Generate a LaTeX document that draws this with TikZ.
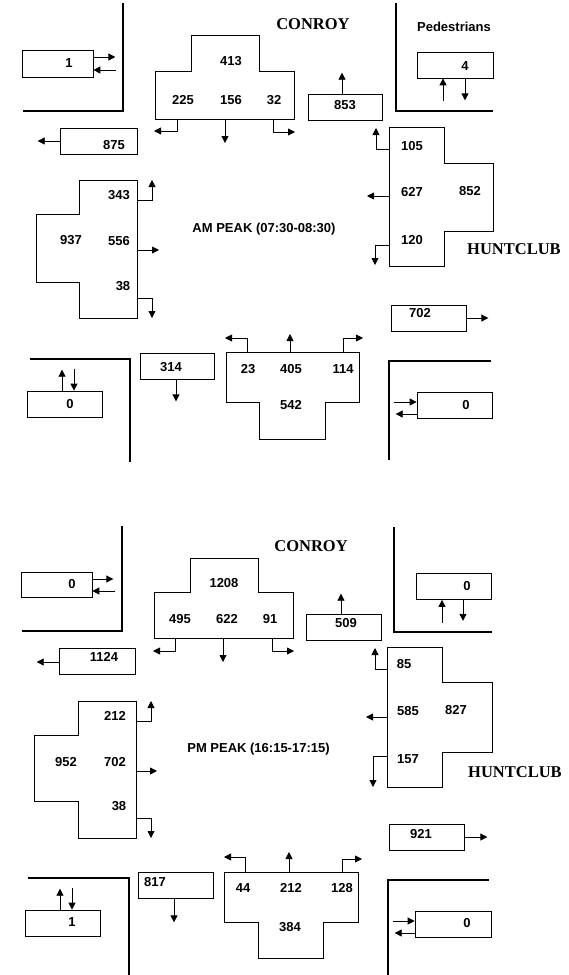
\documentclass[tikz,border=0pt]{standalone}
\usepackage{fontspec}
\setmainfont{Liberation Sans}
\newfontfamily\roadfont{Liberation Serif}
\usetikzlibrary{arrows.meta}

\tikzset{
  volbox/.style={draw, line width=0.7pt, minimum width=75pt, minimum height=26pt, inner sep=0pt},
  vol/.style={font=\fontsize{13}{15}\selectfont\bfseries, inner sep=0pt},
  road/.style={font=\roadfont\fontsize{16.5}{18}\selectfont\bfseries, inner sep=0pt},
  wall/.style={line width=2.8pt},
  approach/.style={draw, line width=0.7pt},
  flow/.style={line width=0.8pt, -{Triangle[length=7pt,width=7pt]}},
}

\begin{document}
\begin{tikzpicture}[x=1pt, y=-1pt]
    \useasboundingbox (0,0) rectangle (569,975);

    % ---------------- AM peak ----------------
    % Kerbs
    \draw[wall] (123,3) -- (123,111) -- (23,111);
    \draw[wall] (396,3) -- (396,111) -- (493,111);
    \draw[wall] (30,359) -- (130,359) -- (130,462);
    \draw[wall] (491,361) -- (389,361) -- (389,460);

    % Street names
    \node[road] (amconroy) at (313,24) {CONROY};
    \node[road] (amhunt) at (514,249) {HUNTCLUB};
    \node[vol] (amped) at (454,27) {Pedestrians};
    \node[vol] (amtitle) at (264,229) {AM PEAK (07:30-08:30)};

    % Pedestrian and departure boxes
    \node[volbox, minimum width=71pt, minimum height=27pt] (amnw) at (57.5,63.5) {};
    \node[vol] (amnwv) at (69,63) {1};
    \node[volbox, minimum width=77pt] (amwout) at (98.5,141) {};
    \node[vol] (amwoutv) at (114,145) {875};
    \node[volbox, minimum width=76pt] (amne) at (455,65) {};
    \node[vol] (amnev) at (465,66) {4};
    \node[volbox, minimum width=74pt] (amnout) at (345,107) {};
    \node[vol] (amnoutv) at (345,105) {853};
    \node[volbox] (ameout) at (428.5,318) {};
    \node[vol] (ameoutv) at (420,313) {702};
    \node[volbox] (amse) at (454.5,405) {};
    \node[vol] (amsev) at (466,405) {0};
    \node[volbox, minimum width=74pt] (amsout) at (177,366) {};
    \node[vol] (amsoutv) at (171,367) {314};
    \node[volbox] (amsw) at (64.5,404) {};
    \node[vol] (amswv) at (70,404) {0};

    \draw[flow] ([yshift=6.5pt]amnw.east) -- ++(22,0);
    \draw[flow] ([yshift=-6.5pt]amnw.east) ++(23,0) -- ([yshift=-6.5pt]amnw.east);
    \draw[flow] (amwout.west) -- ++(-22,0);
    \draw[flow] ([xshift=-12pt]amne.south) ++(0,23) -- ([xshift=-12pt]amne.south);
    \draw[flow] ([xshift=10pt]amne.south) -- ++(0,22);
    \draw[flow] ([xshift=-3pt]amnout.north) -- ++(0,-21);
    \draw[flow] (ameout.east) -- ++(22,0);
    \draw[flow] ([yshift=3pt]amse.west) ++(-23,0) -- ([yshift=3pt]amse.west);
    \draw[flow] ([yshift=-9pt]amse.west) -- ++(-21,0);
    \draw[flow] ([xshift=-1pt]amsout.south) -- ++(0,22);
    \draw[flow] ([xshift=-2.5pt]amsw.north) -- ++(0,-21);
    \draw[flow] ([xshift=9.5pt]amsw.north) ++(0,-22) -- ([xshift=9.5pt]amsw.north);

    % Conroy approach
    \draw[approach] (155,71) -- (191,71) -- (191,35) -- (259,35) -- (259,71)
        -- (294,71) -- (294,119) -- (155,119) -- cycle;
    \node[vol] (amn1) at (231,61) {413};
    \node[vol] (amn2) at (183,100) {225};
    \node[vol] (amn3) at (231,100) {156};
    \node[vol] (amn4) at (274,100) {32};
    \draw[flow] (177,119) |- (154,131);
    \draw[flow] (225,119) -- (225,143);
    \draw[flow] (273,119) |- (295,132);

    % Huntclub approach
    \draw[approach] (389,127) -- (444,127) -- (444,163) -- (493,163) -- (493,231)
        -- (444,231) -- (444,266) -- (389,266) -- cycle;
    \node[vol] (ame1) at (412,146) {105};
    \node[vol] (ame2) at (412,192) {627};
    \node[vol] (ame3) at (470,191) {852};
    \node[vol] (ame4) at (412,240) {120};
    \draw[flow] (389,149) -| (376,128);
    \draw[flow] (389,196) -- (367,196);
    \draw[flow] (389,245) -| (375,265);

    % South approach
    \draw[approach] (226,352) -- (359,352) -- (359,402) -- (325,402) -- (325,439)
        -- (259,439) -- (259,402) -- (226,402) -- cycle;
    \node[vol] (ams1) at (248,369) {23};
    \node[vol] (ams2) at (291,369) {405};
    \node[vol] (ams3) at (343,369) {114};
    \node[vol] (ams4) at (291,405) {542};
    \draw[flow] (247,352) |- (225,338);
    \draw[flow] (290,352) -- (290,334);
    \draw[flow] (343,352) |- (363,338);

    % West approach
    \draw[approach] (79,180) -- (137,180) -- (137,318) -- (79,318) -- (79,282)
        -- (36,282) -- (36,214) -- (79,214) -- cycle;
    \node[vol] (amw1) at (119,195) {343};
    \node[vol] (amw2) at (71,240) {937};
    \node[vol] (amw3) at (119,241) {556};
    \node[vol] (amw4) at (123,286) {38};
    \draw[flow] (137,200) -| (152,180);
    \draw[flow] (137,250) -- (159,250);
    \draw[flow] (137,298) -| (152,318);

    % ---------------- PM peak ----------------
    % Kerbs
    \draw[wall] (122,526) -- (122,631) -- (22,631);
    \draw[wall] (394,527) -- (394,632) -- (492,632);
    \draw[wall] (28,878) -- (129,878) -- (129,975);
    \draw[wall] (489,880) -- (388,880) -- (388,975);

    % Street names
    \node[road] (pmconroy) at (311,546) {CONROY};
    \node[road] (pmhunt) at (515,772) {HUNTCLUB};
    \node[vol] (pmtitle) at (258.5,749) {PM PEAK (16:15-17:15)};

    % Pedestrian and departure boxes
    \node[volbox, minimum width=71pt, minimum height=25pt] (pmnw) at (56.5,584.5) {};
    \node[vol] (pmnwv) at (72,584) {0};
    \node[volbox, minimum width=76pt] (pmwout) at (97,661) {};
    \node[vol] (pmwoutv) at (104,657) {1124};
    \node[volbox] (pmne) at (453.5,586.5) {};
    \node[vol] (pmnev) at (467,586) {0};
    \node[volbox] (pmnout) at (343.5,627) {};
    \node[vol] (pmnoutv) at (346,623) {509};
    \node[volbox] (pmeout) at (426.5,837) {};
    \node[vol] (pmeoutv) at (421,834) {921};
    \node[volbox, minimum width=76pt] (pmse) at (453,924) {};
    \node[vol] (pmsev) at (467,923) {0};
    \node[volbox] (pmsout) at (175.5,885) {};
    \node[vol] (pmsoutv) at (155,882) {817};
    \node[volbox] (pmsw) at (62.5,923) {};
    \node[vol] (pmswv) at (72,922) {1};

    \draw[flow] ([yshift=5.5pt]pmnw.east) -- ++(21,0);
    \draw[flow] ([yshift=-6.5pt]pmnw.east) ++(23,0) -- ([yshift=-6.5pt]pmnw.east);
    \draw[flow] (pmwout.west) ++(0,1) -- ++(-22,0);
    \draw[flow] ([xshift=-11.5pt]pmne.south) ++(0,23) -- ([xshift=-11.5pt]pmne.south);
    \draw[flow] ([xshift=9.5pt]pmne.south) -- ++(0,21);
    \draw[flow] ([xshift=-2.5pt]pmnout.north) -- ++(0,-20);
    \draw[flow] (pmeout.east) -- ++(23,0);
    \draw[flow] ([yshift=3pt]pmse.west) ++(-22,0) -- ([yshift=3pt]pmse.west);
    \draw[flow] ([yshift=-9pt]pmse.west) -- ++(-20,0);
    \draw[flow] ([xshift=-1.5pt]pmsout.south) -- ++(0,24);
    \draw[flow] ([xshift=-2.5pt]pmsw.north) -- ++(0,-21);
    \draw[flow] ([xshift=9.5pt]pmsw.north) ++(0,-22) -- ([xshift=9.5pt]pmsw.north);

    % Conroy approach
    \draw[approach] (154,592) -- (190,592) -- (190,558) -- (258,558) -- (258,592)
        -- (293,592) -- (293,638) -- (154,638) -- cycle;
    \node[vol] (pmn1) at (224,583) {1208};
    \node[vol] (pmn2) at (180,619) {495};
    \node[vol] (pmn3) at (227,619) {622};
    \node[vol] (pmn4) at (270,619) {91};
    \draw[flow] (175,638) |- (153,651);
    \draw[flow] (223,638) -- (223,662);
    \draw[flow] (272,638) |- (294,651);

    % Huntclub approach
    \draw[approach] (387,647) -- (442,647) -- (442,682) -- (492,682) -- (492,752)
        -- (442,752) -- (442,787) -- (387,787) -- cycle;
    \node[vol] (pme1) at (404,664) {85};
    \node[vol] (pme2) at (408,711) {585};
    \node[vol] (pme3) at (456,710) {827};
    \node[vol] (pme4) at (408,759) {157};
    \draw[flow] (387,669) -| (375,648);
    \draw[flow] (387,717) -- (366,717);
    \draw[flow] (387,756) -| (373,787);

    % South approach
    \draw[approach] (224,872) -- (358,872) -- (358,922) -- (323,922) -- (323,958)
        -- (258,958) -- (258,922) -- (224,922) -- cycle;
    \node[vol] (pms1) at (243,888) {44};
    \node[vol] (pms2) at (291,888) {212};
    \node[vol] (pms3) at (342,888) {128};
    \node[vol] (pms4) at (290,927) {384};
    \draw[flow] (245,872) |- (224,857);
    \draw[flow] (289,872) -- (289,852);
    \draw[flow] (342,872) |- (362,859);

    % West approach
    \draw[approach] (78,701) -- (136,701) -- (136,838) -- (78,838) -- (78,801)
        -- (34,801) -- (34,735) -- (78,735) -- cycle;
    \node[vol] (pmw1) at (115,716) {212};
    \node[vol] (pmw2) at (66,762) {952};
    \node[vol] (pmw3) at (115,762) {702};
    \node[vol] (pmw4) at (119,806) {38};
    \draw[flow] (136,721) -| (151,701);
    \draw[flow] (136,771) -- (157,771);
    \draw[flow] (136,818) -| (151,838);
\end{tikzpicture}
\end{document}
